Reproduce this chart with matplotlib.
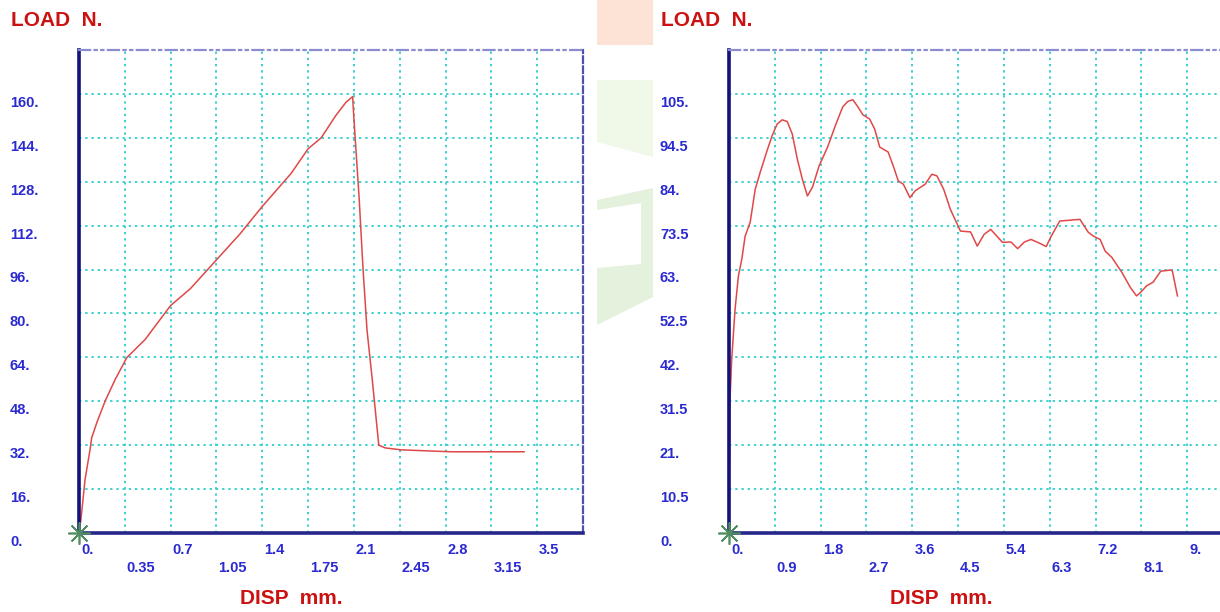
import numpy as np
import matplotlib
matplotlib.use("Agg")
import matplotlib.pyplot as plt
from matplotlib.patches import Polygon

plt.rcParams['font.family'] = ['Liberation Sans', 'DejaVu Sans']

# left test: load vs displacement
disp_a = [0, 0.013, 0.046, 0.084, 0.097, 0.136, 0.199, 0.276, 0.365, 0.505, 0.70, 0.85, 1.04,
          1.23, 1.40, 1.62, 1.75, 1.85, 1.96, 2.04, 2.09, 2.10, 2.14, 2.17, 2.20, 2.24, 2.29,
          2.34, 2.46, 2.84, 3.40]
load_a = [2, 4.1, 19.4, 30.3, 34.7, 40.2, 48.0, 55.9, 63.9, 70.5, 82.9, 89, 99,
          109, 119, 131, 140, 144, 152, 157, 159, 151, 122, 96, 74, 56, 32,
          31, 30.3, 29.6, 29.6]

# right test
disp_b = [0, 0.01, 0.02, 0.053, 0.119, 0.184, 0.252, 0.317, 0.416, 0.515, 0.614, 0.747, 0.847,
          0.946, 1.045, 1.144, 1.243, 1.342, 1.441, 1.540, 1.640, 1.770, 1.937, 2.101, 2.234,
          2.333, 2.433, 2.532, 2.631, 2.762, 2.861, 2.960, 3.126, 3.226, 3.325, 3.424, 3.555,
          3.654, 3.852, 3.985, 4.084, 4.217, 4.348, 4.546, 4.744, 4.877, 5.010, 5.141, 5.373,
          5.537, 5.670, 5.803, 5.934, 6.100, 6.231, 6.330, 6.497, 6.893, 7.058, 7.157, 7.290,
          7.389, 7.520, 7.718, 7.885, 8.004, 8.083, 8.202, 8.333, 8.480, 8.678, 8.710, 8.809]
load_b = [10.3, 18.3, 31.9, 41.5, 53.5, 61.4, 65.5, 71.0, 74.3, 82.2, 86.3, 91.4, 95.0,
          97.8, 98.8, 98.4, 95.4, 89.4, 84.6, 80.6, 82.7, 87.8, 92.3, 97.8, 101.9,
          103.2, 103.6, 101.9, 100.0, 99.0, 96.6, 92.3, 91.1, 87.8, 84.2, 83.4, 80.2,
          81.8, 83.4, 85.8, 85.4, 82.2, 77.4, 72.2, 72.0, 68.6, 71.4, 72.6, 69.5,
          69.6, 68.0, 69.6, 70.2, 69.3, 68.5, 71.0, 74.6, 75.0, 71.9, 71.0, 70.2,
          67.4, 65.9, 62.3, 58.7, 56.7, 57.5, 59.1, 60.0, 62.6, 62.9, 62.6, 56.7]

xticks_a = np.arange(0, 11) * 0.35
xlabels_a = ['0.', '0.35', '0.7', '1.05', '1.4', '1.75', '2.1', '2.45', '2.8', '3.15', '3.5']
yticks_a = np.arange(0, 11) * 16
ylabels_a = ['0.', '16.', '32.', '48.', '64.', '80.', '96.', '112.', '128.', '144.', '160.']

xticks_b = np.arange(0, 11) * 0.9
xlabels_b = ['0.', '0.9', '1.8', '2.7', '3.6', '4.5', '5.4', '6.3', '7.2', '8.1', '9.']
yticks_b = np.arange(0, 11) * 10.5
ylabels_b = ['0.', '10.5', '21.', '31.5', '42.', '52.5', '63.', '73.5', '84.', '94.5', '105.']

W, H = 1220, 612
fig = plt.figure(figsize=(W / 100, H / 100), dpi=100)

def px(x, y):
    return (x / W, 1 - y / H)

# faint background shapes between the panels
fig.patches.append(Polygon([px(597, 0), px(653, 0), px(653, 45), px(597, 45)],
                           closed=True, transform=fig.transFigure, fc='#fde3d6', ec='none'))
fig.patches.append(Polygon([px(597, 80), px(653, 80), px(653, 157), px(597, 142)],
                           closed=True, transform=fig.transFigure, fc='#f0f8e8', ec='none'))
fig.patches.append(Polygon([px(597, 200), px(653, 188), px(653, 297), px(597, 325)],
                           closed=True, transform=fig.transFigure, fc='#e4f1dc', ec='none'))
fig.patches.append(Polygon([px(597, 210), px(641, 203), px(641, 264), px(597, 268)],
                           closed=True, transform=fig.transFigure, fc='white', ec='none'))

blue = '#2a2ad0'
red = '#cc1111'
navy = '#12127a'


def panel(left, xs, ys, xt, xl, yt, yl, xmax, ymax):
    ax = fig.add_axes([left / W, 1 - 533 / H, 504 / W, 483 / H])
    ax.plot(xs, ys, color='#e04848', lw=1.1)
    ax.set_xlim(0, xmax)
    ax.set_ylim(0, ymax)
    ax.set_xticks(xt)
    ax.set_yticks(yt)
    ax.tick_params(length=0, labelbottom=False, labelleft=False)
    ax.grid(True, color='#3fd0d0', ls=(0, (1.2, 2)), lw=1.4)
    ax.spines['left'].set(color=navy, lw=2.6)
    ax.spines['bottom'].set(color='#26268a', lw=2.6)
    ax.spines['top'].set(color='#8c8cd0', lw=1.6, ls=(0, (5, 2, 1, 2, 1, 2)))
    ax.spines['right'].set(color='#5050b0', lw=1.6, ls=(0, (3, 1.5)))
    ax.plot([0], [0], marker=(8, 2, 0), ms=16, mew=1.2, color='#4f8f5f', clip_on=False, zorder=5)
    for i, (v, s) in enumerate(zip(xt, xl)):
        ax.text(v + xmax * 0.004, -0.036 if i % 2 == 0 else -0.073, s,
                transform=ax.get_xaxis_transform(), ha='left', va='center',
                color=blue, fontsize=10.5, fontweight='bold')
    for v, s in zip(yt, yl):
        ax.text(-0.137, v - ymax * 0.004, s, transform=ax.get_yaxis_transform(),
                ha='left', va='top', color=blue, fontsize=10.5, fontweight='bold')
    fig.text((left - 68) / W, 1 - 20 / H, 'LOAD  N.', color=red, fontsize=15,
             fontweight='bold', ha='left', va='center')
    fig.text((left + 161) / W, 1 - 599 / H, 'DISP  mm.', color=red, fontsize=15,
             fontweight='bold', ha='left', va='center')
    return ax


panel(79, disp_a, load_a, xticks_a, xlabels_a, yticks_a, ylabels_a, 3.85, 176)
panel(729, disp_b, load_b, xticks_b, xlabels_b, yticks_b, ylabels_b, 9.9, 115.5)

fig.savefig('out.png', dpi=100)
